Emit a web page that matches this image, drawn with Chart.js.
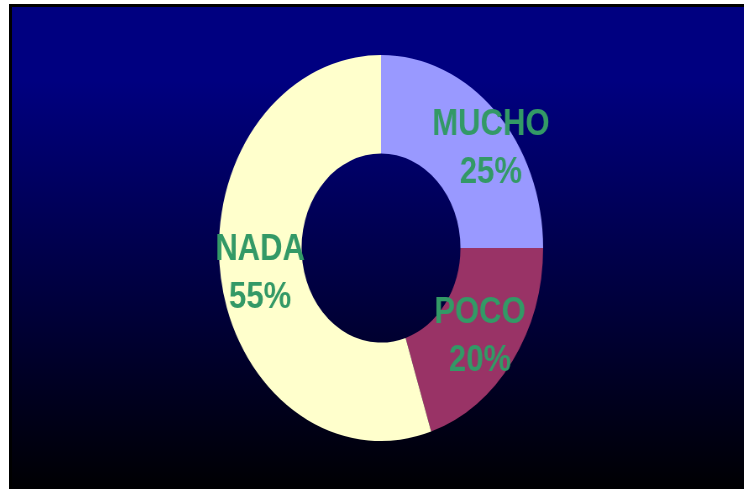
<!DOCTYPE html>
<html>
<head>
<meta charset="utf-8">
<script src="https://cdn.jsdelivr.net/npm/chart.js@4/dist/chart.umd.min.js"></script>
<style>
  html, body { margin: 0; padding: 0; background: #fff; width: 744px; height: 489px; overflow: hidden; }
  #frame {
    position: absolute; left: 9px; top: 4px; width: 740px; height: 490px;
    border-left: 3px solid #000; border-top: 3px solid #000;
    background: linear-gradient(to bottom, #000080 0%, #000080 15%, #000000 100%);
  }
  /* the chart is drawn square and squeezed sideways, so the ring and the text come out oval */
  #chart1 {
    position: absolute; left: 201px; top: 41px;
    width: 335.6px !important; height: 400px !important;
  }
</style>
</head>
<body>
<div id="frame">
  <canvas id="chart1" width="400" height="400"></canvas>
</div>
<script>
const labels = ["MUCHO", "POCO", "NADA"];
const values = [25, 20, 55];
const colors = ["#9999FF", "#993366", "#FFFFCC"];

// draws "NAME" and "NN%" inside each slice
const sliceLabels = {
  id: 'sliceLabels',
  afterDatasetsDraw(chart, args, opts) {
    const ctx = chart.ctx;
    const arcs = chart.getDatasetMeta(0).data;
    ctx.save();
    ctx.font = 'bold ' + opts.size + 'px "Liberation Sans", Arial, sans-serif';
    ctx.fillStyle = opts.color;
    ctx.textAlign = 'center';
    ctx.textBaseline = 'alphabetic';
    arcs.forEach((arc, i) => {
      const p = arc.getProps(['x', 'y', 'startAngle', 'endAngle', 'outerRadius']);
      const a = (p.startAngle + p.endAngle) / 2 + (opts.shift[i] || 0) * Math.PI / 180;
      const r = p.outerRadius * opts.radius[i];
      const cx = p.x + Math.cos(a) * r;
      const cy = p.y + Math.sin(a) * r;
      const cap = opts.size * 0.358;
      ctx.fillText(labels[i], cx, cy - opts.gap / 2 + cap);
      ctx.fillText(values[i] + '%', cx, cy + opts.gap / 2 + cap);
    });
    ctx.restore();
  }
};

const ctx1 = document.getElementById("chart1").getContext('2d');
const chart1 = new Chart(ctx1, {
  type: 'doughnut',
  data: {
    labels: labels,
    datasets: [{
      data: values,
      backgroundColor: colors,
      borderWidth: 0
    }]
  },
  options: {
    responsive: false,
    animation: false,
    cutout: '49%',
    layout: { padding: 7 },
    plugins: {
      legend: { display: false },
      tooltip: { enabled: false },
      sliceLabels: {
        size: 37,
        gap: 48,
        color: '#339966',
        radius: [0.86, 0.755, 0.755],
        shift: [7, 0, 0]
      }
    }
  },
  plugins: [sliceLabels]
});
</script>
</body>
</html>
